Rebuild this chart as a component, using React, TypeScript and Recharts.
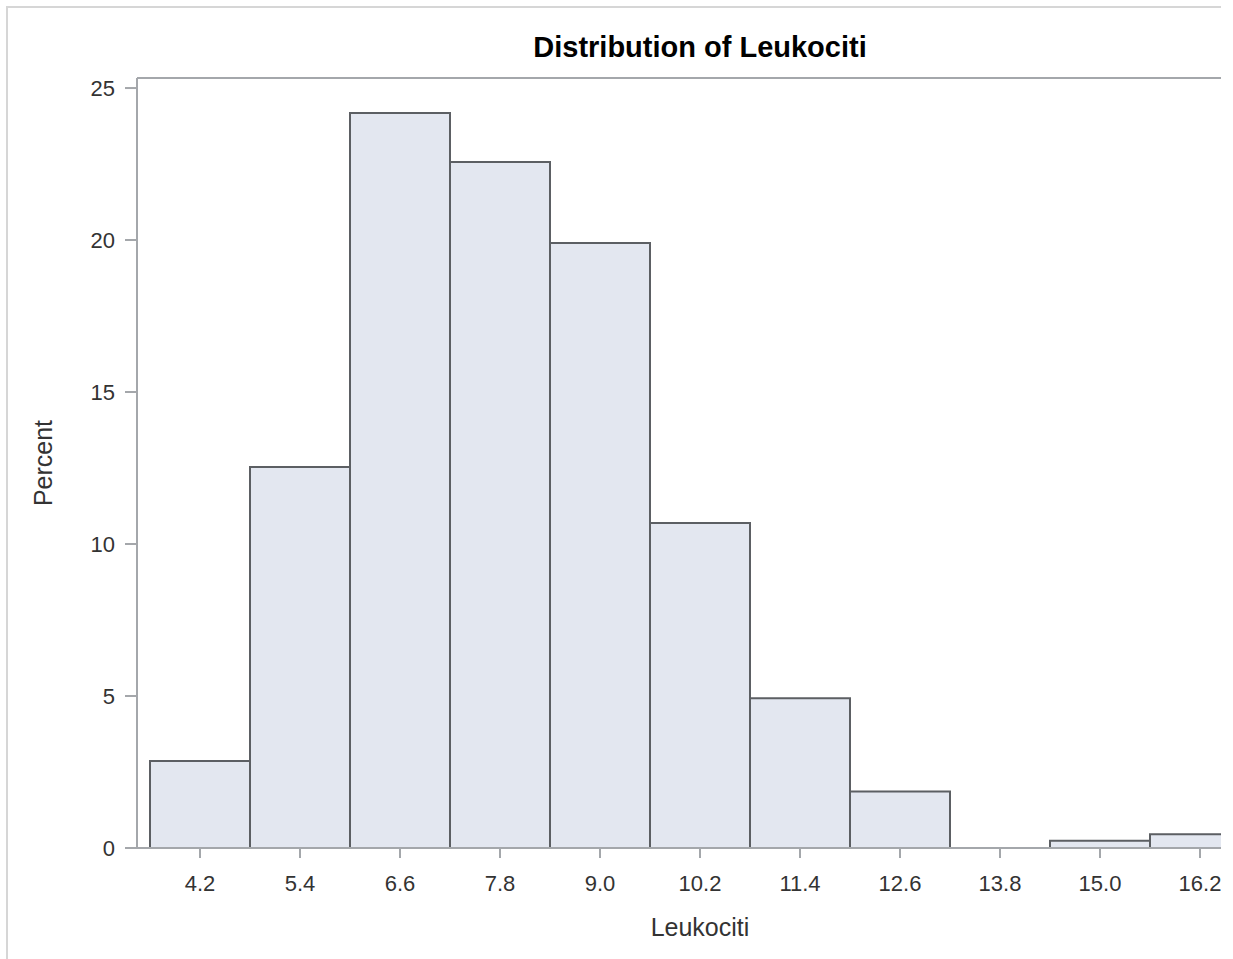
import React from 'react'
import { BarChart, Bar, XAxis, YAxis } from 'recharts'

// histogram bins (midpoints) and percent per bin
const binLabels = ['4.2', '5.4', '6.6', '7.8', '9.0', '10.2', '11.4', '12.6', '13.8', '15.0', '16.2']
const percents = [2.86, 12.53, 24.18, 22.57, 19.9, 10.69, 4.93, 1.86, 0, 0.24, 0.45]
const yTicks = [0, 5, 10, 15, 20, 25]

const data = binLabels.map((label, i) => ({ label, pct: percents[i] }))

const FONT = '"Liberation Sans", Arial, sans-serif'
const FRAME = '#a4a7ab'

function XLabel({ viewBox }: any) {
  if (!viewBox) return null
  return (
    <text
      x={viewBox.x + viewBox.width / 2}
      y={viewBox.y + 88}
      textAnchor="middle"
      fontSize={25}
      fontFamily={FONT}
      fill="#333"
    >
      Leukociti
    </text>
  )
}

function YLabel({ viewBox }: any) {
  if (!viewBox) return null
  const cx = 44
  const cy = viewBox.y + viewBox.height / 2
  return (
    <text
      x={cx}
      y={cy}
      transform={`rotate(-90, ${cx}, ${cy})`}
      textAnchor="middle"
      fontSize={25}
      fontFamily={FONT}
      fill="#333"
    >
      Percent
    </text>
  )
}

export default function App() {
  return (
    <div
      style={{
        position: 'absolute',
        left: 6,
        top: 6,
        width: 1213,
        height: 951,
        overflow: 'hidden',
        borderTop: '2px solid #d6d6d6',
        borderLeft: '2px solid #d6d6d6',
        background: '#fff',
      }}
    >
      <div
        style={{
          position: 'absolute',
          left: 129,
          top: 25,
          width: 1126,
          textAlign: 'center',
          fontFamily: FONT,
          fontWeight: 'bold',
          fontSize: 29,
          lineHeight: '28px',
          color: '#000',
        }}
      >
        Distribution of Leukociti
      </div>
      <BarChart
        width={1266}
        height={951}
        data={data}
        margin={{ top: 69, right: 10, bottom: 10, left: 0 }}
        barCategoryGap={0}
        barGap={0}
      >
        <XAxis
          dataKey="label"
          interval={0}
          padding={{ left: 13, right: 13 }}
          height={101}
          tickSize={10}
          tickMargin={17}
          axisLine={{ stroke: FRAME, strokeWidth: 2 }}
          tickLine={{ stroke: FRAME, strokeWidth: 2 }}
          tick={{ fontSize: 22, fontFamily: FONT, fill: '#333' }}
          label={<XLabel />}
        />
        {/* top frame line */}
        <XAxis
          xAxisId="top"
          orientation="top"
          dataKey="label"
          height={1}
          tick={false}
          tickLine={false}
          axisLine={{ stroke: FRAME, strokeWidth: 2 }}
        />
        <YAxis
          domain={[0, 25.33]}
          ticks={yTicks}
          allowDataOverflow
          width={129}
          tickSize={12}
          tickMargin={10}
          axisLine={{ stroke: FRAME, strokeWidth: 2 }}
          tickLine={{ stroke: FRAME, strokeWidth: 2 }}
          tick={{ fontSize: 22, fontFamily: FONT, fill: '#333' }}
          label={<YLabel />}
        />
        {/* right frame line (clipped off the page edge) */}
        <YAxis
          yAxisId="right"
          orientation="right"
          width={1}
          tick={false}
          tickLine={false}
          axisLine={{ stroke: FRAME, strokeWidth: 2 }}
        />
        <Bar
          dataKey="pct"
          fill="#e3e7f0"
          stroke="#5c5f63"
          strokeWidth={2}
          isAnimationActive={false}
        />
      </BarChart>
    </div>
  )
}
